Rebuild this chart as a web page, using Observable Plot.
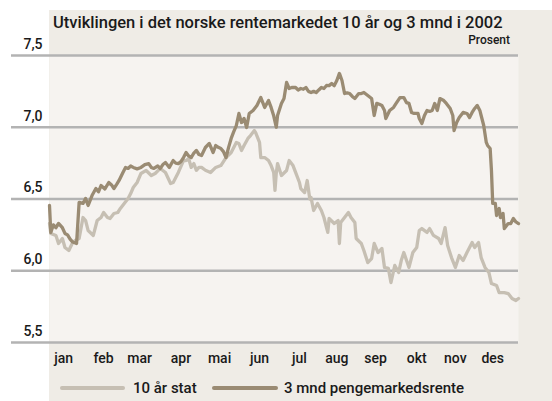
<!DOCTYPE html>
<html><head><meta charset="utf-8">
<script src="https://cdn.jsdelivr.net/npm/d3@7"></script>
<script src="https://cdn.jsdelivr.net/npm/@observablehq/plot@0.6"></script>
<style>
body{margin:0;background:#fff;}
#wrap{position:relative;width:552px;height:401px;overflow:hidden;font-family:Roboto,sans-serif;}
#beige{position:absolute;left:49px;top:10px;right:0;bottom:0;background:#efece6;}
#wrap svg{position:absolute;left:0;top:0;}
</style></head><body><div id="wrap"><div id="beige"></div></div>
<script>
const titleText = "Utviklingen i det norske rentemarkedet 10 år og 3 mnd i 2002";
const unitText = "Prosent";
const seriesNames = ["10 år stat", "3 mnd pengemarkedsrente"];
const seriesColors = ["#c6bfb3", "#9a8b73"];
const monthLabels = ["jan","feb","mar","apr","mai","jun","jul","aug","sep","okt","nov","des"];
const monthTickDates = ["2002-01-12","2002-02-12","2002-03-12","2002-04-13","2002-05-13","2002-06-13","2002-07-14","2002-08-12","2002-09-11","2002-10-13","2002-11-12","2002-12-11"];
const yTicks = [5.5, 6.0, 6.5, 7.0, 7.5];

// [day of year (0 = 1 Jan 2002), percent]
const stat10Points = [
[0,6.33],[1,6.26],[5,6.246],[7,6.19],[10,6.225],[12,6.162],[15,6.141],[18,6.197],[20,6.211],[23,6.225],
[26,6.371],[28,6.35],[30,6.28],[34,6.246],[37,6.35],[40,6.371],[42,6.406],[45,6.371],[47,6.364],[50,6.399],
[53,6.406],[55,6.434],[58,6.469],[61,6.503],[63,6.538],[65,6.58],[68,6.615],[71,6.678],[75,6.699],[79,6.664],
[82,6.678],[86,6.713],[90,6.685],[94,6.608],[96,6.615],[100,6.685],[104,6.768],[106,6.768],[108,6.782],[110,6.72],
[112,6.747],[114,6.70],[116,6.72],[118,6.72],[121,6.70],[125,6.685],[129,6.72],[133,6.733],[137,6.789],[141,6.824],
[145,6.894],[147,6.887],[149,6.838],[151,6.873],[154,6.922],[156,6.942],[159,6.977],[160,6.963],[163,6.894],[164,6.789],
[167,6.789],[170,6.768],[172,6.733],[174,6.685],[175,6.56],[176,6.68],[177,6.747],[180,6.664],[184,6.699],[186,6.768],
[189,6.733],[191,6.685],[194,6.615],[195,6.573],[198,6.545],[200,6.629],[202,6.50],[203,6.51],[205,6.42],[208,6.469],
[211,6.42],[213,6.371],[215,6.30],[216,6.267],[217,6.364],[221,6.329],[224,6.35],[225,6.19],[226,6.336],[229,6.371],
[232,6.406],[234,6.371],[237,6.336],[238,6.225],[242,6.19],[244,6.141],[247,6.057],[250,6.085],[252,6.19],[255,6.127],
[258,6.155],[260,6.023],[263,6.016],[265,5.918],[268,6.037],[271,5.988],[273,6.071],[275,6.127],[279,6.023],[282,6.127],
[285,6.162],[287,6.28],[289,6.294],[293,6.267],[295,6.294],[298,6.246],[302,6.225],[304,6.19],[307,6.301],[309,6.176],
[312,6.092],[315,6.023],[318,6.106],[321,6.071],[324,6.127],[328,6.197],[330,6.162],[333,6.197],[335,6.092],[338,6.023],
[341,5.988],[343,5.911],[347,5.897],[349,5.848],[353,5.848],[356,5.841],[359,5.807],[362,5.793],[364,5.807]
];
const mnd3Points = [
[0,6.455],[1,6.267],[3,6.32],[5,6.30],[7,6.33],[10,6.30],[12,6.26],[14,6.25],[16,6.22],[18,6.20],
[21,6.19],[23,6.476],[26,6.469],[28,6.503],[30,6.455],[33,6.524],[36,6.573],[38,6.55],[40,6.594],[43,6.57],
[46,6.615],[48,6.60],[50,6.573],[52,6.60],[54,6.629],[57,6.685],[59,6.72],[61,6.713],[63,6.73],[65,6.72],
[68,6.71],[71,6.72],[74,6.74],[77,6.747],[79,6.72],[81,6.713],[84,6.73],[86,6.713],[88,6.74],[90,6.754],
[93,6.72],[96,6.768],[98,6.75],[100,6.747],[102,6.76],[104,6.789],[106,6.824],[108,6.80],[110,6.789],[112,6.82],
[114,6.838],[116,6.81],[118,6.803],[121,6.859],[124,6.887],[127,6.824],[129,6.873],[131,6.86],[133,6.852],[135,6.83],
[137,6.789],[139,6.86],[141,6.922],[143,6.97],[145,7.012],[147,7.096],[149,7.033],[151,7.061],[153,6.998],[155,7.096],
[158,7.117],[161,7.152],[164,7.207],[167,7.138],[170,7.186],[172,7.138],[174,7.08],[176,7.00],[177,7.082],[180,7.166],
[182,7.20],[184,7.312],[186,7.27],[188,7.277],[191,7.277],[193,7.26],[195,7.27],[197,7.265],[199,7.277],[201,7.25],
[203,7.242],[205,7.25],[207,7.242],[209,7.26],[211,7.277],[213,7.27],[215,7.291],[217,7.29],[219,7.305],[221,7.29],
[223,7.326],[225,7.375],[227,7.326],[229,7.235],[231,7.24],[233,7.235],[235,7.215],[237,7.20],[240,7.235],[242,7.235],
[244,7.242],[247,7.221],[250,7.20],[252,7.082],[254,7.166],[256,7.16],[258,7.152],[260,7.117],[261,7.061],[264,7.117],
[267,7.138],[269,7.166],[272,7.207],[275,7.207],[277,7.172],[279,7.166],[281,7.103],[283,7.096],[286,7.096],[287,7.061],
[289,7.026],[291,7.082],[293,7.117],[295,7.11],[297,7.117],[299,7.166],[301,7.117],[303,7.20],[306,7.186],[308,7.166],
[311,7.131],[313,7.082],[314,6.977],[316,7.033],[318,7.068],[321,7.103],[324,7.096],[326,7.068],[328,7.103],[330,7.131],
[332,7.152],[334,7.117],[335,7.082],[337,7.012],[339,6.894],[340,6.873],[342,6.852],[343,6.70],[344,6.469],[346,6.469],
[347,6.385],[349,6.434],[350,6.371],[352,6.399],[353,6.294],[356,6.329],[358,6.329],[360,6.364],[362,6.34],[364,6.329]
];

const t0 = Date.UTC(2002, 0, 1);
const toRows = (pts, name) => pts.map(([d, v]) => ({date: new Date(t0 + d * 864e5), value: v, series: name}));
const rows10 = toRows(stat10Points, seriesNames[0]);
const rows3 = toRows(mnd3Points, seriesNames[1]);
const tickDates = monthTickDates.map(s => new Date(s + "T00:00:00Z"));
const labelOf = new Map(tickDates.map((d, i) => [+d, monthLabels[i]]));

const plot = Plot.plot({
  width: 552, height: 401,
  marginLeft: 49, marginRight: 34, marginTop: 55, marginBottom: 59,
  style: {background: "transparent", fontFamily: "Roboto, sans-serif", fontSize: "14px", color: "#1a1a1a", overflow: "visible"},
  x: {type: "utc", domain: [new Date(t0), new Date(Date.UTC(2002, 11, 31))]},
  y: {domain: [5.5, 7.5]},
  marks: [
    Plot.frame({fill: "#f6f3f0", stroke: "none"}),
    Plot.ruleY(yTicks, {stroke: "#b3b3b3", strokeWidth: 2.5, insetLeft: -38}),
    Plot.axisY({ticks: yTicks, tickSize: 0, tickPadding: 7, tickFormat: d => d.toFixed(1).replace(".", ","), dy: -11, fontWeight: 500, fill: "#1a1a1a", label: null}),
    Plot.axisX({ticks: tickDates, tickSize: 0, tickPadding: 11, tickFormat: d => labelOf.get(+d), fontWeight: 500, fill: "#1a1a1a", label: null}),
    Plot.line(rows10, {x: "date", y: "value", stroke: seriesColors[0], strokeWidth: 3.3, strokeLinejoin: "round"}),
    Plot.line(rows3, {x: "date", y: "value", stroke: seriesColors[1], strokeWidth: 3.3, strokeLinejoin: "round"})
  ]
});
const wrap = document.getElementById("wrap");
wrap.appendChild(plot);

// title + legend overlay
const ov = d3.select(wrap).append("svg").attr("width", 552).attr("height", 401)
  .style("font-family", "Roboto, sans-serif").style("pointer-events", "none");
ov.append("text").attr("x", 53).attr("y", 28).attr("font-size", 16.5).attr("font-weight", 500).attr("fill", "#1a1a1a").text(titleText);
ov.append("text").attr("x", 510).attr("y", 44).attr("text-anchor", "end").attr("font-size", 12).attr("font-weight", 500).attr("fill", "#1a1a1a").text(unitText);
const legendX = [[62, 123, 133], [214, 276, 284]];
seriesNames.forEach((name, i) => {
  const [a, b, t] = legendX[i];
  ov.append("line").attr("x1", a).attr("x2", b).attr("y1", 388).attr("y2", 388)
    .attr("stroke", seriesColors[i]).attr("stroke-width", 4).attr("stroke-linecap", "round");
  ov.append("text").attr("x", t).attr("y", 393).attr("font-size", 15).attr("font-weight", 500).attr("fill", "#1a1a1a").text(name);
});
</script>
</body></html>
